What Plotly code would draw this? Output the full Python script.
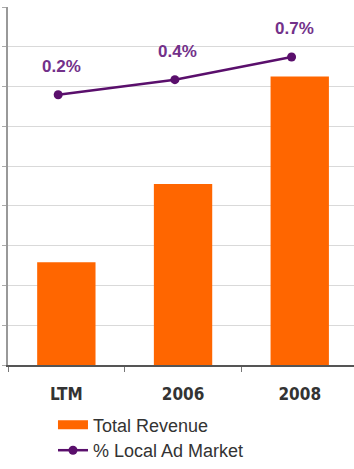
import plotly.graph_objects as go

# Categories and series
categories = ["LTM", "2006", "2008"]
total_revenue = [2.58, 4.55, 7.25]
local_ad_share = [0.2, 0.4, 0.7]
share_labels = ["0.2%", "0.4%", "0.7%"]

ORANGE = "#FF6600"
PURPLE = "#5A0F6C"
LABEL_PURPLE = "#73318A"
TEXT = "#333333"
SANS = "Liberation Sans, Arial, sans-serif"
NARROW = "Liberation Sans Narrow, Arial Narrow, DejaVu Sans Condensed, sans-serif"

fig = go.Figure()

fig.add_trace(go.Bar(
    x=categories, y=total_revenue, name="Total Revenue",
    marker=dict(color=ORANGE, line=dict(width=0)),
    width=0.5, xaxis="x", yaxis="y",
    legendgroup="rev", showlegend=False,
))
# Wide flat swatch for the revenue legend entry
fig.add_trace(go.Scatter(
    x=[None], y=[None], name="Total Revenue", mode="lines",
    line=dict(color=ORANGE, width=9),
    legendgroup="rev", legend="legend",
))

fig.add_trace(go.Scatter(
    x=list(range(len(categories))), y=local_ad_share, name="% Local Ad Market",
    mode="lines+markers",
    line=dict(color=PURPLE, width=2.5),
    marker=dict(color=PURPLE, size=9, symbol="circle"),
    xaxis="x2", yaxis="y2", legend="legend2",
))

# Percentage labels above each point of the line
for i, (v, t) in enumerate(zip(local_ad_share, share_labels)):
    fig.add_annotation(
        x=i, y=v, xref="x2", yref="y2", text=t, showarrow=False,
        yshift=28, xshift=3,
        font=dict(family=SANS, size=17, color=LABEL_PURPLE, weight="bold"),
    )

legend_style = dict(
    xanchor="left", yanchor="middle",
    font=dict(family=SANS, size=18, color=TEXT),
    bgcolor="rgba(0,0,0,0)", itemwidth=30,
)

fig.update_layout(
    width=354, height=469,
    margin=dict(l=8, r=0, t=7, b=103),
    paper_bgcolor="white", plot_bgcolor="white",
    showlegend=True,
    legend=dict(x=0.13, y=-(425 - 366) / 359, **legend_style),
    legend2=dict(x=0.13, y=-(452 - 366) / 359, **legend_style),
    xaxis=dict(
        type="category", range=[-0.5, 2.465],
        showline=True, linecolor="#555555", linewidth=1.5,
        ticks="outside", ticklen=5, tickcolor="#777777", tickson="boundaries",
        showgrid=False, zeroline=False,
        tickfont=dict(family=NARROW, size=17, color=TEXT, weight="bold"),
        ticklabelstandoff=13,
    ),
    yaxis=dict(
        range=[0, 9], dtick=1,
        showline=True, linecolor="#999999", linewidth=1.5,
        ticks="outside", ticklen=4, tickcolor="#aaaaaa",
        showticklabels=False,
        showgrid=True, gridcolor="#d9d9d9", gridwidth=1.2,
        zeroline=False,
    ),
    xaxis2=dict(overlaying="x", range=[-0.43, 2.535], visible=False),
    yaxis2=dict(overlaying="y", range=[-3.37, 1.36], visible=False),
)

fig.write_html("out.html")
